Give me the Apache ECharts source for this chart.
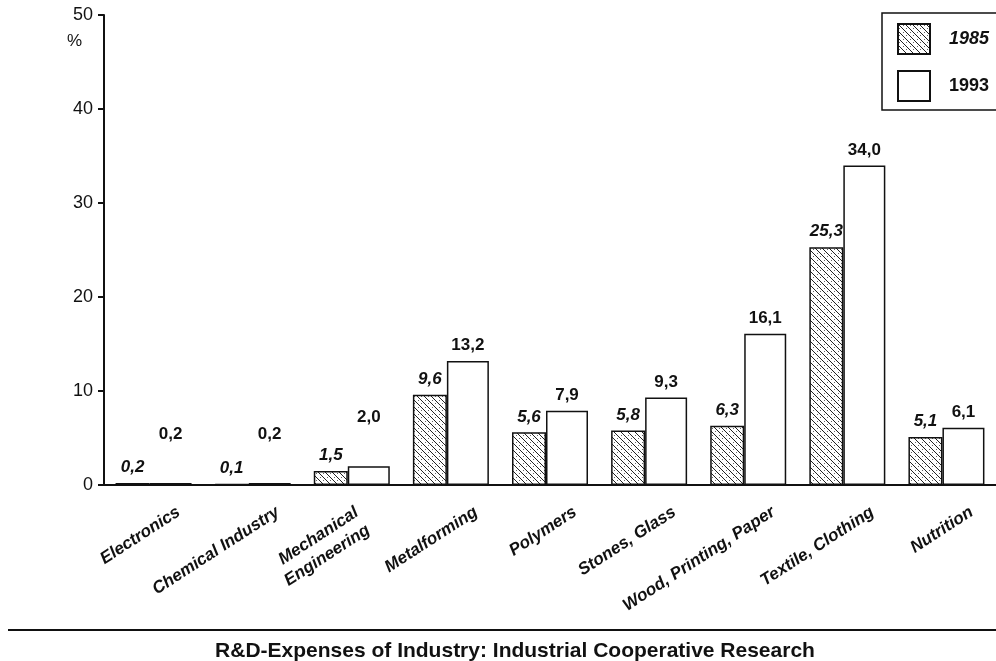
<!DOCTYPE html>
<html>
<head>
<meta charset="utf-8">
<script src="https://cdn.jsdelivr.net/npm/echarts@6/dist/echarts.min.js"></script>
<style>
  html, body { margin: 0; background: #fff; }
  #chart { width: 996px; height: 661px; }
</style>
</head>
<body>
<div id="chart"></div>
<script>
// values
const categories = ['Electronics', 'Chemical Industry', 'Mechanical\nEngineering', 'Metalforming',
  'Polymers', 'Stones, Glass', 'Wood, Printing, Paper', 'Textile, Clothing', 'Nutrition']
const values1985 = [0.2, 0.1, 1.5, 9.6, 5.6, 5.8, 6.3, 25.3, 5.1]
const values1993 = [0.2, 0.2, 2.0, 13.2, 7.9, 9.3, 16.1, 34.0, 6.1]
const yTicks = [0, 10, 20, 30, 40, 50]
const seriesNames = ['1985', '1993']
const chartTitle = 'R&D-Expenses of Industry: Industrial Cooperative Research'

const sans = "'Liberation Sans', Arial, Helvetica, sans-serif"

// diagonal hatch with a few stipple dots, like the print
function hatchTile() {
  const c = document.createElement('canvas')
  c.width = 7
  c.height = 7
  const g = c.getContext('2d')
  g.fillStyle = '#fff'
  g.fillRect(0, 0, 7, 7)
  g.strokeStyle = '#222'
  g.lineWidth = 1
  g.beginPath()
  g.moveTo(-1, -1); g.lineTo(8, 8)
  g.moveTo(-1, 6); g.lineTo(1, 8)
  g.moveTo(6, -1); g.lineTo(8, 1)
  g.stroke()
  g.fillStyle = '#666'
  g.fillRect(5, 1, 1, 1)
  g.fillRect(1, 4, 1, 1)
  return c
}

const fmt = (v) => v.toFixed(1).replace('.', ',')

// the two-line label sits a little further left than the others
const xLabels = categories.map((c) =>
  c.includes('\n') ? { value: c, textStyle: { padding: [0, -13, 0, 0] } } : c)

const chart = echarts.init(document.getElementById('chart'), null, { renderer: 'canvas' })

chart.setOption({
  animation: false,
  backgroundColor: '#fff',
  title: {
    text: chartTitle,
    left: 510,
    top: 636,
    textAlign: 'center',
    textStyle: { fontFamily: sans, fontSize: 21, fontWeight: 'bold', color: '#111' }
  },
  legend: {
    orient: 'vertical',
    left: 882,
    top: 13,
    padding: [10, 24, 8, 15],
    itemWidth: 32,
    itemHeight: 30,
    itemGap: 15,
    icon: 'rect',
    borderColor: '#111',
    borderWidth: 1.5,
    data: [
      { name: seriesNames[0], textStyle: { fontStyle: 'italic' } },
      { name: seriesNames[1] }
    ],
    textStyle: {
      fontFamily: sans,
      fontSize: 18,
      fontWeight: 'bold',
      color: '#111',
      padding: [0, 0, 0, 14]
    }
  },
  grid: { left: 104, right: -3, top: 15, bottom: 176 },
  xAxis: {
    type: 'category',
    data: xLabels,
    axisLine: { lineStyle: { color: '#111', width: 2 } },
    axisTick: { show: false },
    axisLabel: {
      interval: 0,
      rotate: 33,
      margin: 42,
      padding: [0, -30, 0, 0],
      lineHeight: 21,
      fontFamily: sans,
      fontSize: 17,
      fontWeight: 'bold',
      fontStyle: 'italic',
      color: '#111'
    }
  },
  yAxis: {
    type: 'value',
    min: yTicks[0],
    max: yTicks[yTicks.length - 1],
    interval: yTicks[1] - yTicks[0],
    name: '%',
    nameLocation: 'end',
    nameGap: -26,
    nameTextStyle: {
      fontFamily: sans, fontSize: 17, color: '#111',
      align: 'right', verticalAlign: 'middle', padding: [0, 22, 0, 0]
    },
    axisLine: { show: true, lineStyle: { color: '#111', width: 2 } },
    axisTick: { show: true, length: 6, lineStyle: { color: '#111', width: 2 } },
    axisLabel: { margin: 11, fontFamily: sans, fontSize: 18, color: '#111' },
    splitLine: { show: false }
  },
  graphic: [
    {
      type: 'line',
      shape: { x1: 8, y1: 630, x2: 996, y2: 630 },
      style: { stroke: '#111', lineWidth: 2 }
    }
  ],
  series: [
    {
      name: seriesNames[0],
      type: 'bar',
      data: values1985,
      barWidth: 34,
      barGap: '0%',
      itemStyle: {
        color: { image: hatchTile(), repeat: 'repeat' },
        borderColor: '#111',
        borderWidth: 1.5
      },
      label: {
        show: true,
        position: 'top',
        distance: 7,
        formatter: (p) => fmt(p.value),
        fontFamily: sans,
        fontSize: 17,
        fontWeight: 'bold',
        fontStyle: 'italic',
        color: '#111'
      }
    },
    {
      name: seriesNames[1],
      type: 'bar',
      // the tiny bars have their labels lifted well clear of the axis
      data: values1993.map((v) => (v < 3 ? { value: v, label: { offset: [0, -33] } } : v)),
      barWidth: 42,
      barGap: '0%',
      itemStyle: { color: '#fff', borderColor: '#111', borderWidth: 1.5 },
      label: {
        show: true,
        position: 'top',
        distance: 7,
        formatter: (p) => fmt(p.value),
        fontFamily: sans,
        fontSize: 17,
        fontWeight: 'bold',
        color: '#111'
      }
    }
  ]
})
</script>
</body>
</html>
